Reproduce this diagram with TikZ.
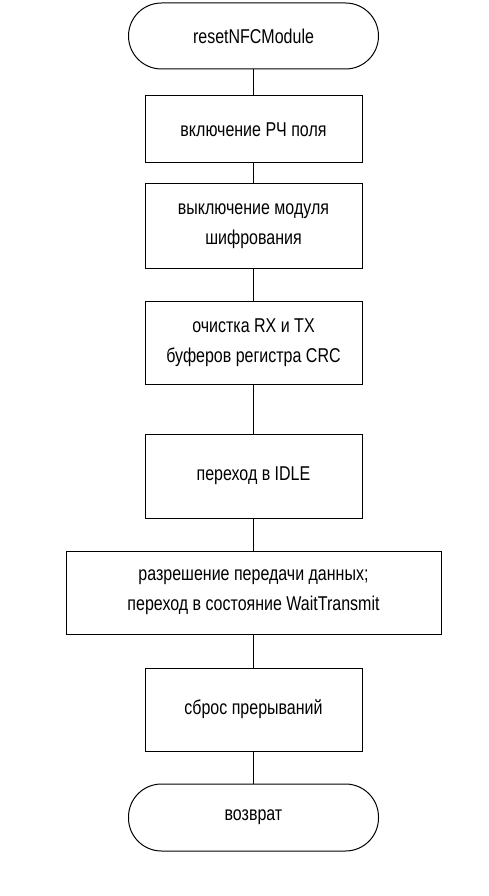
\documentclass[tikz,border=0pt]{standalone}
\usepackage{fontspec}
\setmainfont[FakeStretch=0.8]{Liberation Sans}
\begin{document}
\begin{tikzpicture}[x=1pt,y=1pt,
  every node/.style={font=\fontsize{20}{30}\selectfont, align=center, inner sep=0pt},
  proc/.style={draw, line width=1pt, minimum width=217pt},
  term/.style={draw, line width=1pt, rounded corners=33pt, minimum width=250pt, minimum height=66pt},
  link/.style={line width=1pt}]
\fill[white] (0,0) rectangle (488,-896);
\useasboundingbox (0,0) rectangle (488,-896);
\node[term] (start) at (253.5,-36) {resetNFCModule};
\node[proc, minimum height=67pt] (b1) at (253.5,-129.5) {включение РЧ поля};
\node[proc, minimum height=84pt] (b2) at (253.5,-226) {выключение модуля\\шифрования};
\node[proc, minimum height=83pt] (b3) at (253.5,-342.5) {очистка RX и TX\\буферов регистра CRC};
\node[proc, minimum height=84pt] (b4) at (253.5,-476) {переход в IDLE};
\node[proc, minimum height=83pt, minimum width=375pt] (b5) at (253.5,-592.5) {разрешение передачи данных;\\переход в состояние WaitTransmit};
\node[proc, minimum height=83pt] (b6) at (253.5,-709.5) {сброс прерываний};
\node[term, minimum height=67pt] (end) at (253.5,-817.5) {возврат};
\draw[link] (start) -- (b1);
\draw[link] (b1) -- (b2);
\draw[link] (b2) -- (b3);
\draw[link] (b3) -- (b4);
\draw[link] (b4) -- (b5);
\draw[link] (b5) -- (b6);
\draw[link] (b6) -- (end);
\end{tikzpicture}
\end{document}
